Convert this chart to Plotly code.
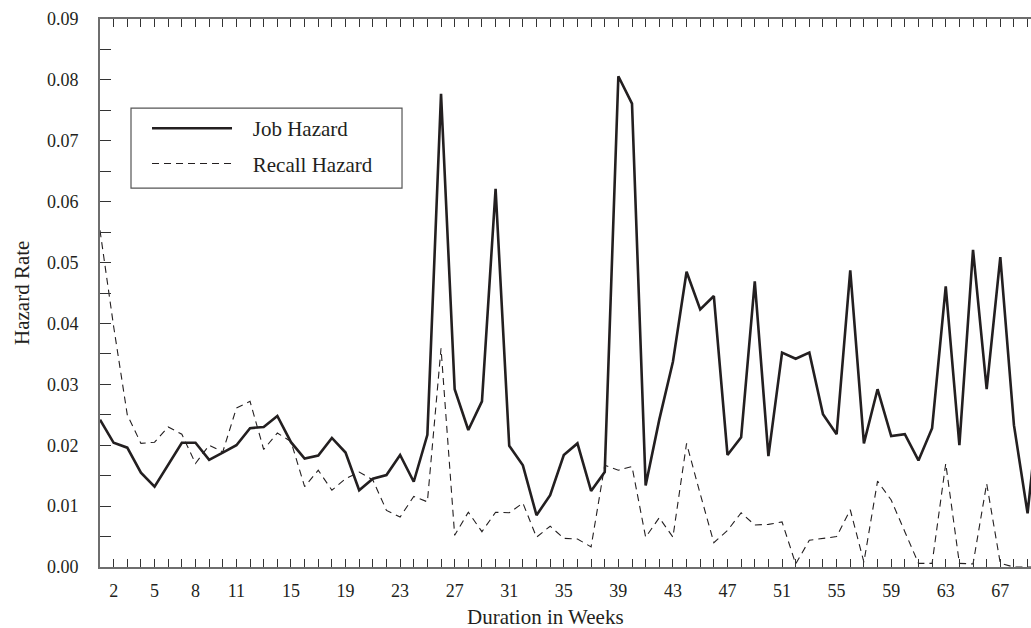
import plotly.graph_objects as go

weeks = list(range(1, 71))

job_hazard = [
    0.0242, 0.0204, 0.0196, 0.0155, 0.0132, 0.0168, 0.0204, 0.0204, 0.0176, 0.0188,
    0.0200, 0.0228, 0.0230, 0.0248, 0.0205, 0.0178, 0.0183, 0.0212, 0.0188, 0.0126,
    0.0145, 0.0151, 0.0184, 0.0140, 0.0217, 0.0777, 0.0292, 0.0225, 0.0272, 0.0621,
    0.0199, 0.0167, 0.0085, 0.0118, 0.0184, 0.0203, 0.0125, 0.0156, 0.0806, 0.0761,
    0.0134, 0.0242, 0.0337, 0.0485, 0.0423, 0.0445, 0.0184, 0.0213, 0.0469, 0.0182,
    0.0352, 0.0342, 0.0352, 0.0251, 0.0218, 0.0487, 0.0203, 0.0292, 0.0215, 0.0218,
    0.0175, 0.0228, 0.0461, 0.0200, 0.0521, 0.0292, 0.0509, 0.0233, 0.0088, 0.0300,
]

recall_hazard = [
    0.0553, 0.0395, 0.0250, 0.0203, 0.0205, 0.0230, 0.0218, 0.0170, 0.0200, 0.0189,
    0.0261, 0.0272, 0.0193, 0.0220, 0.0206, 0.0132, 0.0159, 0.0126, 0.0145, 0.0156,
    0.0143, 0.0093, 0.0082, 0.0116, 0.0107, 0.0359, 0.0052, 0.0090, 0.0058, 0.0090,
    0.0089, 0.0105, 0.0049, 0.0067, 0.0047, 0.0046, 0.0033, 0.0167, 0.0159, 0.0165,
    0.0049, 0.0081, 0.0049, 0.0203, 0.0120, 0.0040, 0.0060, 0.0089, 0.0069, 0.0070,
    0.0074, 0.0005, 0.0044, 0.0047, 0.0050, 0.0094, 0.0008, 0.0141, 0.0110, 0.0058,
    0.0006, 0.0006, 0.0170, 0.0006, 0.0005, 0.0137, 0.0006, 0.0000, 0.0000, 0.0000,
]

x_tick_labels = [2, 5, 8, 11, 15, 19, 23, 27, 31, 35, 39, 43, 47, 51, 55, 59, 63, 67]
y_tick_vals = [i * 0.005 for i in range(19)]
y_tick_text = [f"{v:.2f}" if i % 2 == 0 else "" for i, v in enumerate(y_tick_vals)]

FONT = "Liberation Serif, Times New Roman, serif"
INK = "#231f20"
AXIS = "#6e6e6e"
PAD = "\u00a0\u00a0\u00a0"

fig = go.Figure()
fig.add_trace(go.Scatter(
    x=weeks, y=job_hazard, mode="lines", name=PAD + "Job Hazard",
    line=dict(color=INK, width=2.6), legendgroup="a",
))
fig.add_trace(go.Scatter(
    x=weeks, y=recall_hazard, mode="lines", name=PAD + "Recall Hazard",
    line=dict(color=INK, width=1.1, dash="7px,5px"), legendgroup="b",
))

fig.update_layout(
    width=1031, height=628,
    margin=dict(l=100, r=0, t=19, b=61),
    paper_bgcolor="white", plot_bgcolor="white",
    font=dict(family=FONT, size=18, color=INK),
    showlegend=True,
    legend=dict(
        x=0.0505, y=0.8375, xanchor="left", yanchor="top",
        bgcolor="rgba(0,0,0,0)", borderwidth=0,
        font=dict(family=FONT, size=21, color=INK),
        itemwidth=80, tracegroupgap=5,
    ),
    shapes=[
        dict(type="rect", xref="paper", yref="paper",
             x0=0.0333, x1=0.3244, y0=0.6914, y1=0.8375,
             line=dict(color="#555555", width=1.2), fillcolor="white", layer="below"),
    ],
    annotations=[
        dict(text="Duration in Weeks", xref="paper", yref="paper",
             x=0.478, y=-0.092, xanchor="center", yanchor="middle",
             showarrow=False, font=dict(family=FONT, size=21, color=INK)),
        dict(text="Hazard Rate", xref="paper", yref="paper",
             x=-0.0838, y=0.5, xanchor="center", yanchor="middle", textangle=-90,
             showarrow=False, font=dict(family=FONT, size=21, color=INK)),
    ],
)

fig.update_xaxes(
    range=[1, 69.25],
    tickmode="array",
    tickvals=weeks,
    ticktext=[str(w) if w in x_tick_labels else "" for w in weeks],
    ticks="inside", ticklen=8, tickwidth=1.2, tickcolor="#333333",
    showline=True, linecolor=AXIS, linewidth=2, mirror="ticks",
    showgrid=False, zeroline=False,
    tickfont=dict(family=FONT, size=18, color=INK),
    ticklabelstandoff=6,
)
fig.update_yaxes(
    range=[0, 0.09],
    tickmode="array", tickvals=y_tick_vals, ticktext=y_tick_text,
    ticks="inside", ticklen=11, tickwidth=1.2, tickcolor="#333333",
    showline=True, linecolor=AXIS, linewidth=2, mirror=False,
    showgrid=False, zeroline=False,
    tickfont=dict(family=FONT, size=18, color=INK),
    ticklabelstandoff=16,
)

fig.write_html(
    "out.html",
    config={"displayModeBar": False},
    post_script="document.body.style.margin='0px';document.body.style.overflow='hidden';",
)
